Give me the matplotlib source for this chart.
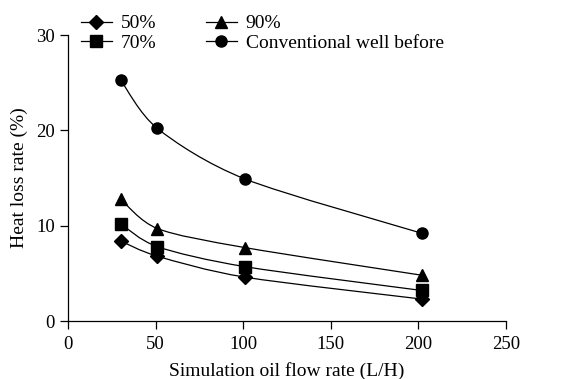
import numpy as np
import matplotlib
matplotlib.use("Agg")
import matplotlib.pyplot as plt
from matplotlib.path import Path
from matplotlib.patches import PathPatch
from matplotlib.lines import Line2D

plt.rcParams['font.family'] = ['Liberation Serif', 'DejaVu Serif']
plt.rcParams['mathtext.fontset'] = 'stix'

# data
flow = [30, 51, 101, 202]
rate_50 = [8.4, 6.8, 4.6, 2.3]
rate_70 = [10.2, 7.8, 5.7, 3.2]
rate_90 = [12.8, 9.7, 7.7, 4.8]
rate_conv = [25.3, 20.2, 14.9, 9.2]

labels = ['50%', '70%', '90%', 'Conventional well before']
markers = ['D', 's', '^', 'o']
sizes = [7, 8, 9, 8]
series = [rate_50, rate_70, rate_90, rate_conv]


def smooth_path(xs, ys):
    # catmull-rom style bezier through the points
    pts = np.column_stack([xs, ys]).astype(float)
    verts = [pts[0]]
    codes = [Path.MOVETO]
    n = len(pts)
    for i in range(n - 1):
        p0 = pts[max(i - 1, 0)]
        p1 = pts[i]
        p2 = pts[i + 1]
        p3 = pts[min(i + 2, n - 1)]
        c1 = p1 + (p2 - p0) / 7.0
        c2 = p2 - (p3 - p1) / 7.0
        verts += [c1, c2, p2]
        codes += [Path.CURVE4] * 3
    return Path(verts, codes)


fig = plt.figure(figsize=(5.69, 3.79), dpi=100)
ax = fig.add_axes([68 / 569, 1 - 321 / 379, 438 / 569, 286 / 379])

handles = []
for ys, m, ms, lab in zip(series, markers, sizes, labels):
    patch = PathPatch(smooth_path(flow, ys), fill=False, lw=0.9,
                      edgecolor='black')
    ax.add_patch(patch)
    ax.plot(flow, ys, linestyle='none', marker=m, ms=ms, color='black')
    handles.append(Line2D([], [], color='black', lw=0.9, marker=m, ms=ms,
                          label=lab))

ax.set_xlim(0, 250)
ax.set_ylim(0, 30)
ax.set_xticks([0, 50, 100, 150, 200, 250])
ax.set_yticks([0, 10, 20, 30])
for s in ['top', 'right']:
    ax.spines[s].set_visible(False)
ax.spines['left'].set_linewidth(0.9)
ax.spines['bottom'].set_linewidth(0.9)
ax.tick_params(direction='out', length=6, width=0.9, labelsize=13.5)
ax.tick_params(axis='x', pad=5)
ax.set_xlabel('Simulation oil flow rate (L/H)', fontsize=14, labelpad=6)
ax.set_ylabel('Heat loss rate (%)', fontsize=14, labelpad=6)

fig.legend(handles=handles, ncol=2, loc='upper left',
           bbox_to_anchor=(73 / 569, 1 - 7 / 379), frameon=False,
           fontsize=14, handlelength=1.6, columnspacing=2.55,
           labelspacing=0.1, handletextpad=0.45, borderaxespad=0)

fig.savefig('out.png', dpi=100)
